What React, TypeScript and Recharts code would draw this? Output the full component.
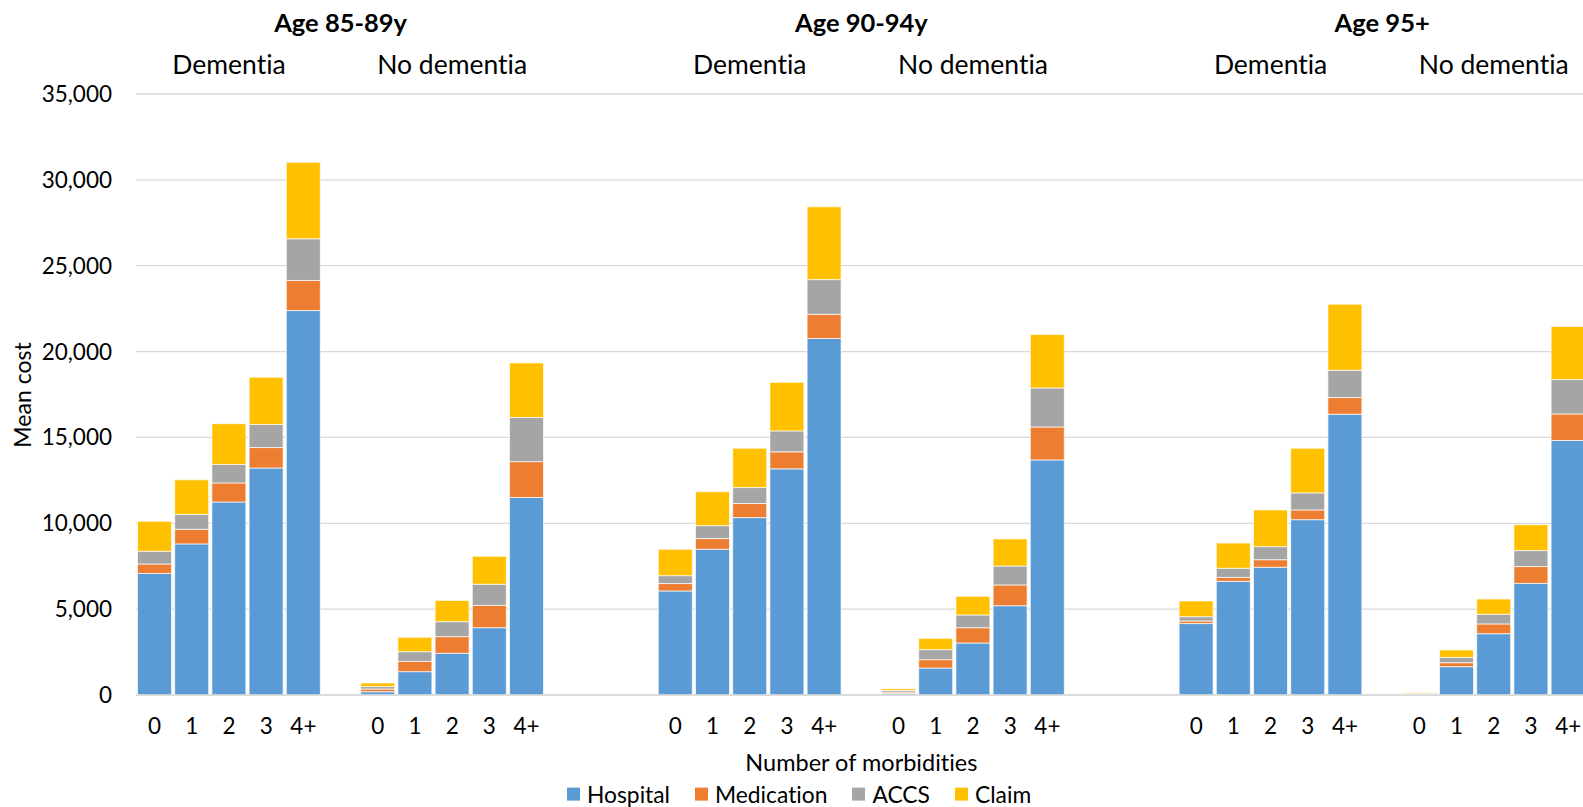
import React from 'react';
import { BarChart, Bar, XAxis, YAxis, CartesianGrid } from 'recharts';

const morbidityLabels = ['0', '1', '2', '3', '4+'];
const ageGroups = ['Age 85-89y', 'Age 90-94y', 'Age 95+'];
const dementiaGroups = ['Dementia', 'No dementia'];
const yTicks = [0, 5000, 10000, 15000, 20000, 25000, 30000, 35000];

// panels in order: 85-89 D, 85-89 ND, 90-94 D, 90-94 ND, 95+ D, 95+ ND
const hospital = [
  [7080, 8800, 11240, 13220, 22390],
  [190, 1360, 2430, 3920, 11500],
  [6060, 8490, 10330, 13170, 20760],
  [100, 1570, 3030, 5200, 13690],
  [4160, 6620, 7440, 10210, 16350],
  [60, 1650, 3570, 6500, 14820],
];
const medication = [
  [550, 850, 1110, 1190, 1750],
  [160, 600, 970, 1300, 2090],
  [430, 620, 820, 990, 1410],
  [70, 490, 890, 1210, 1920],
  [150, 230, 440, 570, 970],
  [20, 230, 570, 980, 1550],
];
const accs = [
  [740, 860, 1080, 1350, 2430],
  [140, 560, 870, 1230, 2570],
  [460, 750, 930, 1220, 2020],
  [100, 580, 740, 1100, 2270],
  [250, 530, 760, 990, 1590],
  [20, 310, 560, 930, 2000],
];
const claim = [
  [1750, 2020, 2370, 2750, 4450],
  [210, 840, 1240, 1630, 3180],
  [1540, 1980, 2290, 2830, 4240],
  [100, 660, 1090, 1580, 3110],
  [920, 1470, 2140, 2600, 3850],
  [40, 430, 890, 1510, 3090],
];

const series = [
  { key: 'hospital', name: 'Hospital', color: '#5B9BD5' },
  { key: 'medication', name: 'Medication', color: '#ED7D31' },
  { key: 'accs', name: 'ACCS', color: '#A5A5A5' },
  { key: 'claim', name: 'Claim', color: '#FFC000' },
];

// category slots: empty slots separate the panels
const TOTAL_SLOTS = 39;
const panelStart = [0, 6, 14, 20, 28, 34];

const data: any[] = Array.from({ length: TOTAL_SLOTS }, (_, i) => ({ slot: `s${i}`, label: '' }));
panelStart.forEach((start, p) => {
  morbidityLabels.forEach((m, j) => {
    Object.assign(data[start + j], {
      label: m,
      hospital: hospital[p][j],
      medication: medication[p][j],
      accs: accs[p][j],
      claim: claim[p][j],
    });
  });
});

const FONT = 'Lato, "Open Sans", sans-serif';
const W = 1600;
const H = 807;
const PLOT_LEFT = 136;
const SLOT = 37.2;
const PLOT_TOP = 94;
const PLOT_BOTTOM = 695;
const X_AXIS_H = 40;

const slotX = (i: number) => PLOT_LEFT + SLOT * (i + 0.5);

const XTick = (props: any) => {
  const { x, y, index } = props;
  return (
    <text x={x} y={y + 30} textAnchor="middle" dominantBaseline="central" fontSize={22.5} fontFamily={FONT} fill="#000">
      {data[index]?.label}
    </text>
  );
};

const Txt = ({ x, y, size, bold, children }: any) => (
  <div
    style={{
      position: 'absolute',
      left: x,
      top: y,
      transform: 'translate(-50%, -50%)',
      fontSize: size,
      fontWeight: bold ? 700 : 400,
      whiteSpace: 'nowrap',
      lineHeight: 1,
      color: '#000',
    }}
  >
    {children}
  </div>
);

export default function App() {
  return (
    <div
      style={{
        position: 'absolute',
        left: 0,
        top: 0,
        width: 1583,
        height: H,
        overflow: 'hidden',
        background: '#fff',
        fontFamily: FONT,
        fontVariantLigatures: 'none',
      }}
    >
      <BarChart
        width={W}
        height={H}
        data={data}
        barCategoryGap={1.5}
        margin={{ top: PLOT_TOP, right: W - PLOT_LEFT - SLOT * TOTAL_SLOTS, left: 0, bottom: H - PLOT_BOTTOM - X_AXIS_H }}
      >
        <CartesianGrid vertical={false} stroke="#D9D9D9" strokeWidth={1.3} />
        <XAxis
          dataKey="slot"
          interval={0}
          height={X_AXIS_H}
          tickLine={false}
          tickSize={0}
          tickMargin={0}
          axisLine={{ stroke: '#D9D9D9', strokeWidth: 1.5 }}
          tick={<XTick />}
        />
        <YAxis
          domain={[0, 35000]}
          ticks={yTicks}
          width={PLOT_LEFT}
          axisLine={false}
          tickLine={false}
          tickSize={0}
          tickMargin={24}
          tickFormatter={(v: number) => v.toLocaleString('en-US')}
          tick={{ fontSize: 22.5, fill: '#000', fontFamily: FONT }}
        />
        {series.map((s) => (
          <Bar
            key={s.key}
            dataKey={s.key}
            name={s.name}
            stackId="cost"
            fill={s.color}
            stroke="#fff"
            strokeWidth={0.7}
            isAnimationActive={false}
          />
        ))}
      </BarChart>

      {ageGroups.map((g, i) => (
        <Txt key={g} x={slotX(panelStart[i * 2] + 5)} y={23} size={25.5} bold>
          {g}
        </Txt>
      ))}
      {panelStart.map((start, p) => (
        <Txt key={p} x={slotX(start + 2)} y={64} size={26.5}>
          {dementiaGroups[p % 2]}
        </Txt>
      ))}

      <div
        style={{
          position: 'absolute',
          left: 22,
          top: (PLOT_TOP + PLOT_BOTTOM) / 2,
          transform: 'translate(-50%, -50%) rotate(-90deg)',
          fontSize: 23,
          whiteSpace: 'nowrap',
          lineHeight: 1,
        }}
      >
        Mean cost
      </div>

      <Txt x={PLOT_LEFT + (SLOT * TOTAL_SLOTS) / 2} y={763} size={23.5}>
        Number of morbidities
      </Txt>

      <div
        style={{
          position: 'absolute',
          left: 567,
          top: 794,
          transform: 'translateY(-50%)',
          display: 'flex',
          alignItems: 'center',
          gap: 25,
          fontSize: 22.8,
          lineHeight: 1,
        }}
      >
        {series.map((s) => (
          <div key={s.key} style={{ display: 'flex', alignItems: 'center', gap: 7 }}>
            <div style={{ width: 13, height: 13, background: s.color }} />
            <span>{s.name}</span>
          </div>
        ))}
      </div>
    </div>
  );
}
